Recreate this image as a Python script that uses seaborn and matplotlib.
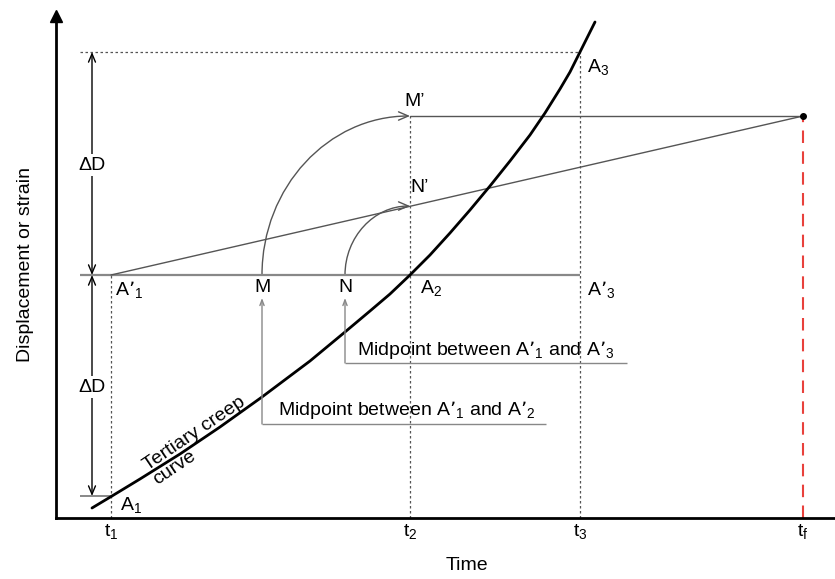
import numpy as np
import matplotlib.pyplot as plt
import seaborn as sns
from matplotlib.patches import FancyArrowPatch
from matplotlib.path import Path

# schematic positions (arbitrary units: time along x, displacement along y)
tick_pos = [55, 354, 524, 747]
tick_labels = ['t$_1$', 't$_2$', 't$_3$', 't$_f$']

level_a1 = 22      # A1
level_a2 = 243     # A'1, A2, A'3
level_a3 = 466     # A3
level_top = 402    # M' and failure point
level_n = 312      # N'
point_m = 206
point_n = 289
left_ext = 24      # where the horizontal guides start
dd_x = 36          # x of the Delta D arrows

# tertiary creep curve
curve_t = [36, 56, 84, 124, 164, 206, 254, 289, 314, 334, 354, 374, 394,
           414, 434, 454, 474, 489, 504, 514, 524, 539]
curve_d = [10, 22, 39, 64, 91, 121, 157, 186, 207, 224, 243, 263, 285,
           308, 332, 357, 383, 405, 429, 446, 466, 496]

sns.set_style('white')
plt.rcParams['font.family'] = ['Liberation Sans', 'DejaVu Sans']
plt.rcParams['mathtext.default'] = 'regular'
plt.rcParams['text.color'] = 'black'
plt.rcParams['axes.labelcolor'] = 'black'
plt.rcParams['xtick.color'] = 'black'

fig = plt.figure(figsize=(8.35, 5.79), dpi=100)
ax = fig.add_axes([56 / 835, 61 / 579, 779 / 835, 502 / 579])
ax.set_xlim(0, 779)
ax.set_ylim(0, 502)

for side in ['top', 'right']:
    ax.spines[side].set_visible(False)
for side in ['left', 'bottom']:
    ax.spines[side].set_color('black')
    ax.spines[side].set_linewidth(2)
ax.plot(0, 1, marker='^', color='black', markersize=8, transform=ax.transAxes, clip_on=False)

dark = '#555555'
grey = '#888888'
dot = dict(color=dark, lw=0.9, ls=(0, (2, 2)))

# dotted guides
ax.vlines(tick_pos[0], 0, level_a2, **dot)
ax.vlines(tick_pos[1], 0, level_top, **dot)
ax.vlines(tick_pos[2], 0, level_a3, **dot)
ax.hlines(level_a3, left_ext, tick_pos[2], **dot)

# solid horizontal guides
ax.hlines(level_a2, left_ext, tick_pos[2], color=grey, lw=1.6)
ax.hlines(level_a1, left_ext, tick_pos[0], color=grey, lw=1.4)
ax.plot([tick_pos[1], tick_pos[3]], [level_top, level_top], color=dark, lw=1)
ax.plot([tick_pos[0], tick_pos[3]], [level_a2, level_top], color=dark, lw=1)

# failure time
ax.vlines(tick_pos[3], 0, level_top, color='#e8413c', lw=1.5, ls=(0, (6, 4)))
ax.plot(tick_pos[3], level_top, 'o', color='black', markersize=4)

# creep curve
sns.lineplot(x=curve_t, y=curve_d, color='black', lw=2, ax=ax)

# Delta D arrows
arr = dict(arrowstyle='<->,head_length=0.6,head_width=0.25', color='black', lw=1,
           shrinkA=0, shrinkB=0)
ax.annotate('', xy=(dd_x, level_a3), xytext=(dd_x, level_a2), arrowprops=arr)
ax.annotate('', xy=(dd_x, level_a2), xytext=(dd_x, level_a1), arrowprops=arr)
box = dict(facecolor='white', edgecolor='none', pad=2)
ax.text(dd_x, 353, 'ΔD', fontsize=14, ha='center', va='center', bbox=box)
ax.text(dd_x, 131, 'ΔD', fontsize=14, ha='center', va='center', bbox=box)


# projection arcs: quarter ellipses from the A2 level up to t2
def quarter_arc(x0, y0, x1, y1):
    k = 0.5523
    verts = [(x0, y0), (x0, y0 + k * (y1 - y0)), (x1 - k * (x1 - x0), y1), (x1, y1)]
    codes = [Path.MOVETO, Path.CURVE4, Path.CURVE4, Path.CURVE4]
    patch = FancyArrowPatch(path=Path(verts, codes),
                            arrowstyle='->,head_length=0.7,head_width=0.3',
                            mutation_scale=10, color=dark, lw=1)
    ax.add_patch(patch)


quarter_arc(point_m, level_a2, tick_pos[1], level_top)
quarter_arc(point_n, level_a2, tick_pos[1], level_n)

# callouts
call = dict(arrowstyle='->,head_length=0.4,head_width=0.15', color=grey, lw=1,
            shrinkA=0, shrinkB=0)
ax.annotate('', xy=(point_n, 220), xytext=(point_n, 155), arrowprops=call)
ax.hlines(155, point_n, 571, color=grey, lw=1)
ax.text(point_n + 12, 163, 'Midpoint between A’$_1$ and A’$_3$', fontsize=14, va='baseline')
ax.annotate('', xy=(point_m, 220), xytext=(point_m, 94), arrowprops=call)
ax.hlines(94, point_m, 490, color=grey, lw=1)
ax.text(point_m + 16, 103, 'Midpoint between A’$_1$ and A’$_2$', fontsize=14, va='baseline')

# point labels
fs = 14
ax.text(359, 416, 'M’', fontsize=fs, ha='center', va='center')
ax.text(364, 331, 'N’', fontsize=fs, ha='center', va='center')
ax.text(point_m, 231, 'M', fontsize=fs, ha='center', va='center')
ax.text(point_n, 231, 'N', fontsize=fs, ha='center', va='center')
ax.text(364, 230, 'A$_2$', fontsize=fs, ha='left', va='center')
ax.text(531, 228, 'A’$_3$', fontsize=fs, ha='left', va='center')
ax.text(59, 228, 'A’$_1$', fontsize=fs, ha='left', va='center')
ax.text(64, 13, 'A$_1$', fontsize=fs, ha='left', va='center')
ax.text(531, 451, 'A$_3$', fontsize=fs, ha='left', va='center')
ax.text(143, 77, 'Tertiary creep\ncurve', fontsize=fs, ha='center', va='center',
        multialignment='left', rotation=34, linespacing=1.0)

ax.set_yticks([])
ax.set_xticks(tick_pos, tick_labels)
ax.tick_params(axis='x', length=0, pad=3, labelsize=14)
ax.set_xlabel('Time', fontsize=14)
ax.xaxis.set_label_coords(0.528, -0.078)
ax.set_ylabel('Displacement or strain', fontsize=14)
ax.yaxis.set_label_coords(-0.028, 0.504)

fig.savefig('out.png', dpi=100)
